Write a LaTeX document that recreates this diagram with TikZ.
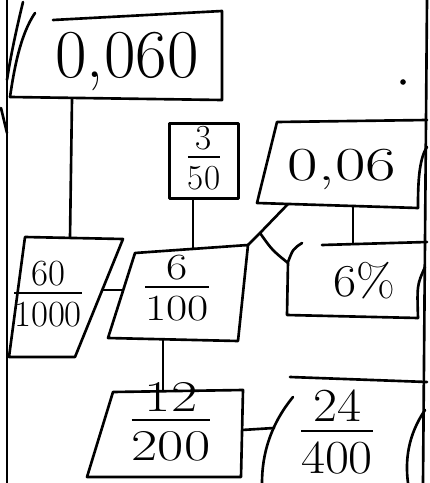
\documentclass[tikz,border=0pt]{standalone}
\usepackage{amsmath}

% fraction with a thick bar, as written by hand
\newcommand{\handfrac}[2]{{\setlength{\arrayrulewidth}{1.4pt}%
  \renewcommand{\arraystretch}{0.6}%
  \begin{tabular}{@{}c@{}}\rule[-0.12em]{0pt}{0.7em}#1\\\hline\rule{0pt}{0.88em}#2\end{tabular}}}

\begin{document}
\begin{tikzpicture}[x=0.02cm, y=-0.02cm, line cap=round, line join=round,
  pen/.style={line width=1.5pt, black},
  printpen/.style={line width=1.2pt, black},
  digits/.style={font=\fontsize{#1}{#1}\selectfont, inner sep=0pt}]
  % Sheet of paper with its two side lines
  \useasboundingbox (0,0) rectangle (429,483);
  \draw[pen] (7,0) -- (7,483);
  \draw[pen] (427,0) -- (423,483);

  % Box 0,060 (top left)
  \coordinate (a-tl) at (53,20);
  \coordinate (a-tr) at (222,11);
  \coordinate (a-br) at (222,100);
  \coordinate (a-bl) at (10,97);
  \draw[pen] (23,2) .. controls (15,35) and (10,60) .. (7,80);
  \draw[pen] (a-bl) .. controls (14,70) and (20,35) .. (35,13);
  \draw[pen] (a-tl) -- (a-tr) -- (a-br) -- (a-bl);
  \draw[pen] (1,108) -- (7,133);
  \node[digits=39] (n0060) at (127,62) {0,060};
  \fill (403,82) circle[radius=1.6pt];

  % Box 60/1000
  \coordinate (d-tl) at (25,237);
  \coordinate (d-tr) at (123,239);
  \coordinate (d-br) at (75,357);
  \coordinate (d-bl) at (9,357);
  \draw[pen] (d-tl) -- (d-tr) -- (d-br) -- (d-bl) -- cycle;
  \node[digits=21] (n601000) at (48,297) {\handfrac{60}{1000}};

  % Box 3/50 (printed)
  \node[draw, printpen, digits=20, minimum width=1.38cm, minimum height=1.5cm]
    (n350) at (204,161) {\handfrac{3}{50}};

  % Box 6/100
  \coordinate (c-tl) at (135,253);
  \coordinate (c-tr) at (248,245);
  \coordinate (c-br) at (238,341);
  \coordinate (c-bl) at (108,338);
  \draw[pen] (c-tl) -- (c-tr) -- (c-br) -- (c-bl) -- cycle;
  \node[digits=21] (n6100) at (177,291) {\scalebox{1.25}[1]{\handfrac{6}{100}}};

  % Box 0,06
  \coordinate (e-tl) at (277,122);
  \coordinate (e-tr) at (427,120);
  \coordinate (e-bl) at (257,203);
  \coordinate (e-br) at (418,208);
  \draw[pen] (e-tr) -- (e-tl) -- (e-bl) -- (e-br);
  \draw[pen] (427,147) .. controls (418,160) and (418,190) .. (e-br);
  \node[digits=27] (n006) at (342,169) {\scalebox{1.4}[1]{0,06}};

  % Box 6%
  \coordinate (f-tl) at (322,245);
  \coordinate (f-tr) at (427,242);
  \coordinate (f-bl) at (287,315);
  \coordinate (f-br) at (418,318);
  \draw[pen] (f-tr) -- (f-tl);
  \draw[pen] (302,243) .. controls (293,249) .. (288,262) -- (f-bl) -- (f-br);
  \draw[pen] (425,267) .. controls (417,285) .. (f-br);
  \node[digits=26] (n6pct) at (364,281) {\scalebox{1.1}[1]{6\%}};

  % Box 12/200
  \coordinate (g-tl) at (113,392);
  \coordinate (g-tr) at (243,390);
  \coordinate (g-br) at (241,477);
  \coordinate (g-bl) at (87,477);
  \draw[pen] (g-tl) -- (g-tr) -- (g-br) -- (g-bl) -- cycle;
  \node[digits=25] (n12200) at (171,425) {\scalebox{1.3}[1]{\handfrac{12}{200}}};

  % Box 24/400 (cut off at the bottom)
  \draw[pen] (290,377) -- (427,382);
  \draw[pen] (293,397) .. controls (270,425) and (262,455) .. (262,483);
  \draw[pen] (425,410) .. controls (408,435) and (405,460) .. (408,483);
  \node[digits=27] (n24400) at (337,436) {\scalebox{1.1}[1]{\handfrac{24}{400}}};

  % Connectors
  \coordinate (a-out) at (72,99);
  \coordinate (d-in) at (70,238);
  \draw[pen] (a-out) -- (d-in);

  \coordinate (d-out) at (102,290);
  \coordinate (c-left) at (123,290);
  \draw[pen] (d-out) -- (c-left);

  \coordinate (c-in) at (193,249);
  \draw[pen] (n350.south -| c-in) -- (c-in);

  \coordinate (fork) at (260,233);
  \coordinate (e-in) at (288,204);
  \coordinate (f-in) at (288,263);
  \draw[pen] (c-tr) -- (fork) -- (e-in);
  \draw[pen] (fork) .. controls (272,250) .. (f-in);

  \coordinate (e-out) at (353,206);
  \coordinate (f-top) at (353,244);
  \draw[pen] (e-out) -- (f-top);

  \coordinate (c-out) at (163,340);
  \coordinate (g-in) at (163,391);
  \draw[pen] (c-out) -- (g-in);

  \coordinate (g-out) at (242,430);
  \coordinate (h-in) at (274,428);
  \draw[pen] (g-out) -- (h-in);
\end{tikzpicture}
\end{document}
